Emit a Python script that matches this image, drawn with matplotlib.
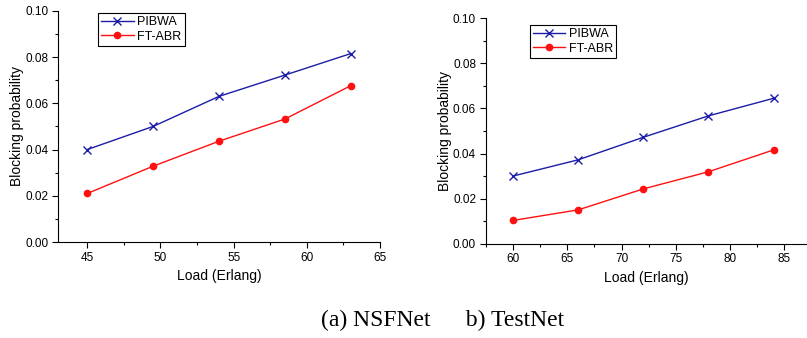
import matplotlib.pyplot as plt
from matplotlib.ticker import MultipleLocator

# NSFNet
load_a = [45, 49.5, 54, 58.5, 63]
pibwa_a = [0.0400, 0.0500, 0.0630, 0.0722, 0.0815]
ftabr_a = [0.0210, 0.0328, 0.0436, 0.0532, 0.0676]

# TestNet
load_b = [60, 66, 72, 78, 84]
pibwa_b = [0.0300, 0.0372, 0.0472, 0.0567, 0.0645]
ftabr_b = [0.0103, 0.0150, 0.0243, 0.0319, 0.0416]

plt.rcParams["font.family"] = ["Liberation Sans", "DejaVu Sans"]

fig = plt.figure(figsize=(8.07, 3.38), dpi=100)
ax1 = fig.add_axes([0.0719, 0.284, 0.399, 0.684])
ax2 = fig.add_axes([0.602, 0.279, 0.397, 0.667])


def style(ax, x, p, f, xlim, legend_anchor):
    ax.plot(x, p, color="#1c1ca8", lw=1, marker="x", ms=6, mew=1, label="PIBWA")
    ax.plot(x, f, color="#ff1010", lw=1, marker="o", ms=4.5, label="FT-ABR")
    ax.set_xlim(*xlim)
    ax.set_ylim(0, 0.10)
    ax.xaxis.set_major_locator(MultipleLocator(5))
    ax.xaxis.set_minor_locator(MultipleLocator(2.5))
    ax.yaxis.set_major_locator(MultipleLocator(0.02))
    ax.yaxis.set_minor_locator(MultipleLocator(0.01))
    ax.yaxis.set_major_formatter(plt.FormatStrFormatter("%.2f"))
    for s in ("top", "right"):
        ax.spines[s].set_visible(False)
    ax.tick_params(which="major", length=4, width=0.8, labelsize=8.5, pad=3)
    ax.tick_params(which="minor", length=2.5, width=0.8)
    ax.set_xlabel("Load (Erlang)", fontsize=10, labelpad=4)
    ax.set_ylabel("Blocking probability", fontsize=10, labelpad=1)
    leg = ax.legend(loc="upper left", bbox_to_anchor=legend_anchor, fontsize=9,
                    fancybox=False, edgecolor="black", framealpha=1,
                    handlelength=2.6, borderpad=0.25, labelspacing=0.2,
                    handletextpad=0.3, borderaxespad=0)
    leg.get_frame().set_linewidth(0.8)


style(ax1, load_a, pibwa_a, ftabr_a, (43, 65), (0.124, 0.99))
style(ax2, load_b, pibwa_b, ftabr_b, (57.5, 87), (0.137, 0.97))

fig.text(0.549, 0.053, "(a) NSFNet      b) TestNet", family="Liberation Serif",
         fontsize=17, ha="center", va="center")

fig.savefig("out.png", dpi=100)
